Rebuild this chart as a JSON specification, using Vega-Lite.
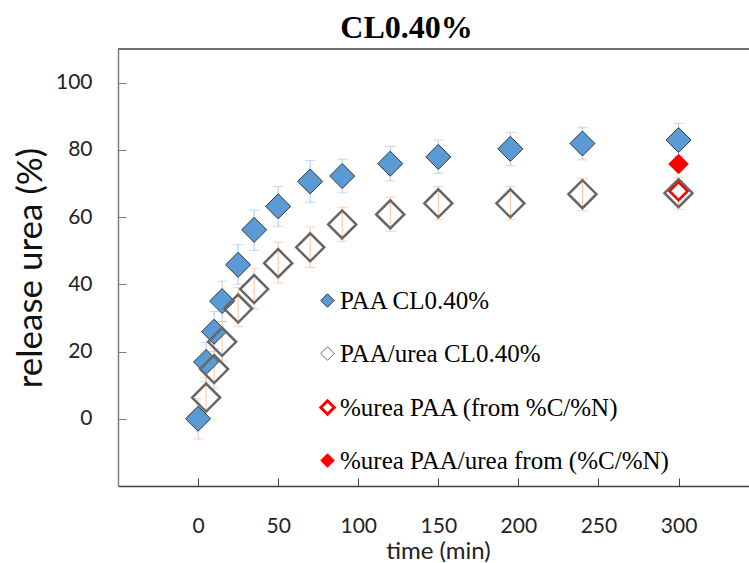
{
  "$schema": "https://vega.github.io/schema/vega-lite/v6.json",
  "width": 631,
  "height": 437,
  "autosize": {"type": "none"},
  "padding": {"left": 118, "top": 49, "right": 0, "bottom": 77},
  "background": "white",
  "config": {"view": {"stroke": null}, "font": "Lato"},
  "title": {"text": "CL0.40%", "font": "Liberation Serif", "fontSize": 32, "fontWeight": "bold", "color": "black", "anchor": "middle", "dx": -27, "offset": 3},
  "datasets": {
    "paa": [
      {"time": 0, "release": 0, "lo": -1, "hi": 1, "series": "PAA CL0.40%"},
      {"time": 5, "release": 16.9, "lo": 11, "hi": 22.7, "series": "PAA CL0.40%"},
      {"time": 10, "release": 25.9, "lo": 20, "hi": 31.9, "series": "PAA CL0.40%"},
      {"time": 15, "release": 35.0, "lo": 29, "hi": 40.9, "series": "PAA CL0.40%"},
      {"time": 25, "release": 45.8, "lo": 40, "hi": 51.8, "series": "PAA CL0.40%"},
      {"time": 35, "release": 56.2, "lo": 50.1, "hi": 62.1, "series": "PAA CL0.40%"},
      {"time": 50, "release": 63.2, "lo": 57.3, "hi": 69.1, "series": "PAA CL0.40%"},
      {"time": 70, "release": 70.6, "lo": 64.4, "hi": 76.8, "series": "PAA CL0.40%"},
      {"time": 90, "release": 72.2, "lo": 67.2, "hi": 77.2, "series": "PAA CL0.40%"},
      {"time": 120, "release": 75.9, "lo": 70.8, "hi": 81.0, "series": "PAA CL0.40%"},
      {"time": 150, "release": 77.9, "lo": 73.0, "hi": 82.9, "series": "PAA CL0.40%"},
      {"time": 195, "release": 80.3, "lo": 75.3, "hi": 85.2, "series": "PAA CL0.40%"},
      {"time": 240, "release": 81.9, "lo": 77.0, "hi": 86.7, "series": "PAA CL0.40%"},
      {"time": 300, "release": 82.9, "lo": 78.0, "hi": 87.9, "series": "PAA CL0.40%"}
    ],
    "urea_err": [
      {"time": 0, "lo": -6, "hi": 6},
      {"time": 5, "lo": 0.3, "hi": 12.3},
      {"time": 10, "lo": 8.9, "hi": 20.8},
      {"time": 15, "lo": 17.1, "hi": 28.9},
      {"time": 25, "lo": 27.4, "hi": 39.1},
      {"time": 35, "lo": 32.6, "hi": 44.8},
      {"time": 50, "lo": 40.4, "hi": 52.5},
      {"time": 70, "lo": 45.0, "hi": 57.1},
      {"time": 90, "lo": 52.8, "hi": 62.9},
      {"time": 120, "lo": 55.7, "hi": 65.9},
      {"time": 150, "lo": 59.2, "hi": 69.1},
      {"time": 195, "lo": 59.2, "hi": 69.1},
      {"time": 240, "lo": 61.9, "hi": 71.5},
      {"time": 300, "lo": 62.3, "hi": 71.8}
    ],
    "urea": [
      {"time": 5, "release": 6.3, "series": "PAA/urea CL0.40%"},
      {"time": 10, "release": 14.8, "series": "PAA/urea CL0.40%"},
      {"time": 15, "release": 22.9, "series": "PAA/urea CL0.40%"},
      {"time": 25, "release": 32.8, "series": "PAA/urea CL0.40%"},
      {"time": 35, "release": 38.6, "series": "PAA/urea CL0.40%"},
      {"time": 50, "release": 46.3, "series": "PAA/urea CL0.40%"},
      {"time": 70, "release": 51.0, "series": "PAA/urea CL0.40%"},
      {"time": 90, "release": 57.8, "series": "PAA/urea CL0.40%"},
      {"time": 120, "release": 60.8, "series": "PAA/urea CL0.40%"},
      {"time": 150, "release": 64.1, "series": "PAA/urea CL0.40%"},
      {"time": 195, "release": 64.1, "series": "PAA/urea CL0.40%"},
      {"time": 240, "release": 66.8, "series": "PAA/urea CL0.40%"},
      {"time": 300, "release": 67.1, "series": "PAA/urea CL0.40%"}
    ],
    "red_open": [
      {"time": 300, "release": 67.7, "series": "%urea PAA (from %C/%N)"}
    ],
    "red_fill": [
      {"time": 300, "release": 75.8, "series": "%urea PAA/urea from (%C/%N)"}
    ],
    "frame": [{"top": 110}]
  },
  "encoding": {
    "x": {
      "field": "time", "type": "quantitative",
      "scale": {"domain": [-50, 344], "nice": false, "zero": false},
      "axis": {
        "values": [0, 50, 100, 150, 200, 250, 300],
        "grid": false, "tickSize": -8, "tickColor": "#404040", "domainColor": "#404040", "domainWidth": 1.5,
        "labelFontSize": 21, "labelColor": "#222222", "labelPadding": 37, "labelFont": "Lato",
        "title": "time (min)", "titleFontSize": 24, "titleFontWeight": "normal", "titleColor": "#222222", "titleFont": "Lato",
        "titleX": 320, "titleY": 65, "titleBaseline": "middle"
      }
    }
  },
  "layer": [
    {
      "data": {"name": "paa"},
      "mark": {"type": "errorbar", "ticks": {"size": 10, "color": "#a9c9ec", "thickness": 1}, "rule": {"color": "#a9c9ec", "strokeWidth": 1}},
      "encoding": {
        "y": {"field": "lo", "type": "quantitative", "scale": {"domain": [-20, 110], "nice": false, "zero": false}, "title": "release urea (%)",
          "axis": {"values": [0, 20, 40, 60, 80, 100], "grid": false, "tickSize": -8, "tickColor": "#7f7f7f", "domainColor": "#7f7f7f", "domainWidth": 1.5,
            "labelFontSize": 21, "labelColor": "#222222", "labelPadding": 34, "labelFont": "Lato",
            "titleFontSize": 35, "titleFontWeight": "normal", "titleColor": "#111111", "titleFont": "Lato", "titleX": -88, "titleY": 218.5, "titleBaseline": "middle", "titleAngle": -90}},
        "y2": {"field": "hi"}
      }
    },
    {
      "data": {"name": "urea_err"},
      "mark": {"type": "errorbar", "ticks": {"size": 10, "color": "#f6c3a0", "thickness": 1}, "rule": {"color": "#f6c3a0", "strokeWidth": 1}},
      "encoding": {
        "y": {"field": "lo", "type": "quantitative", "title": "release urea (%)"},
        "y2": {"field": "hi"}
      }
    },
    {
      "data": {"name": "paa"},
      "mark": {"type": "point", "shape": "diamond", "size": 625, "opacity": 1, "filled": true},
      "encoding": {
        "y": {"field": "release", "type": "quantitative", "title": "release urea (%)"},
        "fill": {"field": "series", "type": "nominal", "title": null,
          "scale": {"domain": ["PAA CL0.40%", "PAA/urea CL0.40%", "%urea PAA (from %C/%N)", "%urea PAA/urea from (%C/%N)"], "range": ["#5b9bd5", "transparent", "white", "#ff0000"]},
          "legend": {"orient": "none", "legendX": 197, "legendY": 239, "padding": 0, "labelFont": "Liberation Serif", "labelFontSize": 25, "labelColor": "#000000", "labelLimit": 400, "symbolSize": 180, "symbolType": "diamond", "rowPadding": 27, "labelOffset": 0,
            "symbolStrokeWidth": {"expr": "datum.value === '%urea PAA (from %C/%N)' ? 3 : 1"}}},
        "stroke": {"field": "series", "type": "nominal", "title": null,
          "scale": {"domain": ["PAA CL0.40%", "PAA/urea CL0.40%", "%urea PAA (from %C/%N)", "%urea PAA/urea from (%C/%N)"], "range": ["#333333", "#666666", "#ff0000", "#ff0000"]}},
        "strokeWidth": {"field": "series", "type": "nominal", "title": null, "legend": null,
          "scale": {"type": "ordinal", "domain": ["PAA CL0.40%", "PAA/urea CL0.40%", "%urea PAA (from %C/%N)", "%urea PAA/urea from (%C/%N)"], "range": [1, 1.1, 3, 0]}}
      }
    },
    {
      "data": {"name": "urea"},
      "mark": {"type": "point", "shape": "diamond", "size": 784, "opacity": 1, "filled": true},
      "encoding": {
        "y": {"field": "release", "type": "quantitative", "title": "release urea (%)"},
        "fill": {"field": "series", "type": "nominal", "title": null},
        "stroke": {"field": "series", "type": "nominal", "title": null},
        "strokeWidth": {"field": "series", "type": "nominal", "title": null, "legend": null}
      }
    },
    {
      "data": {"name": "red_fill"},
      "mark": {"type": "point", "shape": "diamond", "size": 289, "opacity": 1, "filled": true},
      "encoding": {
        "y": {"field": "release", "type": "quantitative", "title": "release urea (%)"},
        "fill": {"field": "series", "type": "nominal", "title": null},
        "stroke": {"field": "series", "type": "nominal", "title": null},
        "strokeWidth": {"field": "series", "type": "nominal", "title": null, "legend": null}
      }
    },
    {
      "data": {"name": "red_open"},
      "mark": {"type": "point", "shape": "diamond", "size": 324, "opacity": 1, "filled": true},
      "encoding": {
        "y": {"field": "release", "type": "quantitative", "title": "release urea (%)"},
        "fill": {"field": "series", "type": "nominal", "title": null},
        "stroke": {"field": "series", "type": "nominal", "title": null},
        "strokeWidth": {"field": "series", "type": "nominal", "title": null, "legend": null}
      }
    },
    {
      "data": {"name": "frame"},
      "mark": {"type": "rule", "color": "#404040", "strokeWidth": 1.5},
      "encoding": {"x": null, "y": {"field": "top", "type": "quantitative", "title": "release urea (%)"}}
    }
  ]
}
